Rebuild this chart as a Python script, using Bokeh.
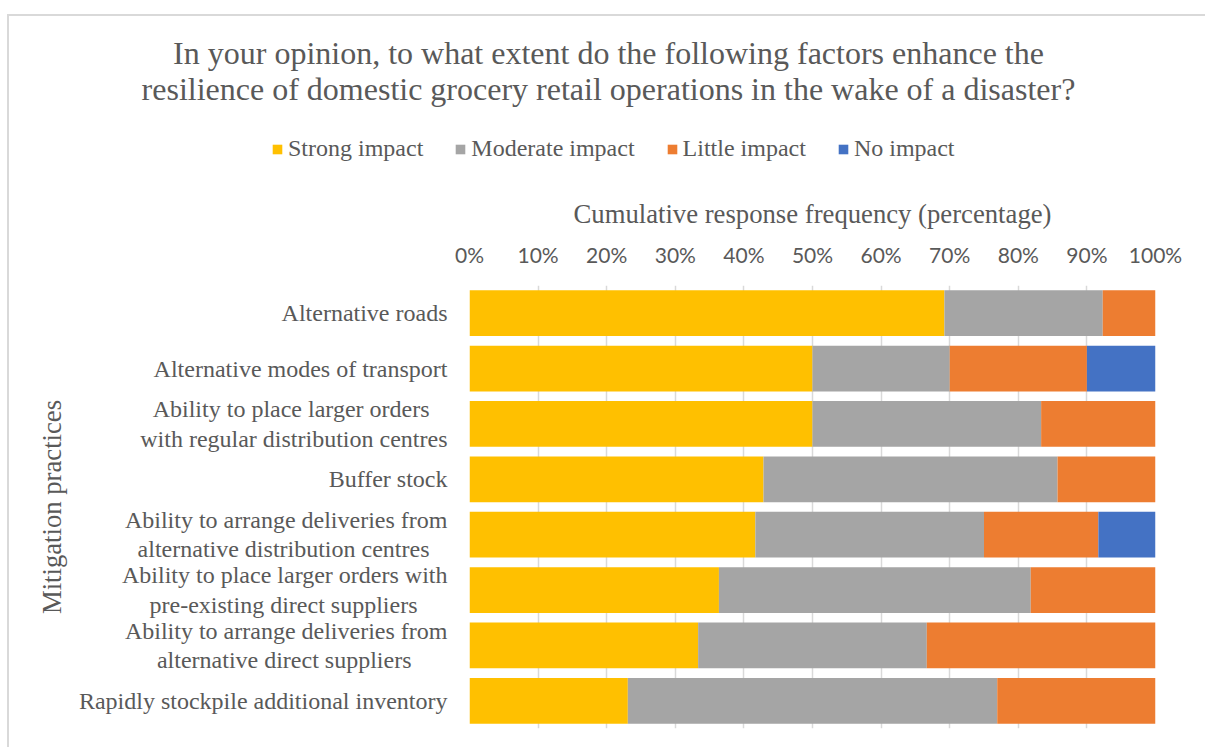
from bokeh.plotting import figure
from bokeh.layouts import column
from bokeh.models import (ColumnDataSource, FactorRange, Range1d, FixedTicker,
                          PrintfTickFormatter, Legend, LegendItem)
from bokeh.core.properties import value
from bokeh.embed import file_html
from bokeh.resources import INLINE

# Survey responses: share of respondents per impact level (percent of each practice)
practices = [
    "Alternative roads",
    "Alternative modes of transport",
    "Ability to place larger orders\nwith regular distribution centres",
    "Buffer stock",
    "Ability to arrange deliveries from\nalternative distribution centres",
    "Ability to place larger orders with\npre-existing direct suppliers",
    "Ability to arrange deliveries from\nalternative direct suppliers",
    "Rapidly stockpile additional inventory",
]
strong_impact = [69.23, 50.0, 50.0, 42.86, 41.67, 36.36, 33.33, 23.08]
moderate_impact = [23.08, 20.0, 33.33, 42.86, 33.33, 45.45, 33.33, 53.85]
little_impact = [7.69, 20.0, 16.67, 14.28, 16.67, 18.19, 33.34, 23.07]
no_impact = [0.0, 10.0, 0.0, 0.0, 8.33, 0.0, 0.0, 0.0]

impact_levels = ["Strong impact", "Moderate impact", "Little impact", "No impact"]
impact_colors = ["#FFC000", "#A5A5A5", "#ED7D31", "#4472C4"]
x_ticks = [0, 10, 20, 30, 40, 50, 60, 70, 80, 90, 100]

title_lines = [
    "In your opinion, to what extent do the following factors enhance the",
    "resilience of domestic grocery retail operations in the wake of a disaster?",
]
x_title = "Cumulative response frequency (percentage)"
y_title = "Mitigation practices"

TEXT = "#595959"
SERIF = "Liberation Serif"
LABEL_PX = 24

# Advance widths (1/1000 em) of the serif face, used to centre the lines
# of the two-line practice labels inside their right-aligned block.
_ADV = dict(zip("abcdefghijklmnopqrstuvwxyz",
                [444, 500, 444, 500, 444, 333, 500, 500, 278, 278, 500, 278, 778,
                 500, 500, 500, 500, 333, 389, 278, 500, 500, 722, 500, 500, 444]))
_ADV.update({" ": 250, "-": 333, "\u00a0": 250, "A": 722, "B": 667, "R": 667})


def line_width(s):
    return sum(_ADV.get(ch, 500) for ch in s) / 1000.0 * LABEL_PX


def centred_block(label):
    lines = label.split("\n")
    if len(lines) == 1:
        return label
    widest = max(line_width(ln) for ln in lines)
    nbsp = line_width("\u00a0")
    out = []
    for ln in lines:
        pad = int(round((widest - line_width(ln)) / 2.0 / nbsp))
        out.append(ln + "\u00a0" * pad)
    return "\n".join(out)


display_names = [centred_block(lab) for lab in practices]

source = ColumnDataSource(dict(
    practice=display_names,
    **{impact_levels[0]: strong_impact,
       impact_levels[1]: moderate_impact,
       impact_levels[2]: little_impact,
       impact_levels[3]: no_impact},
))

W = 1196
HEAD_H = 174
MAIN_H = 731 - HEAD_H

# ---- header: title and legend -------------------------------------------
head = figure(
    width=W, height=HEAD_H,
    x_range=Range1d(0, W), y_range=Range1d(HEAD_H, 0),
    output_backend="svg", toolbar_location=None,
    min_border=0, min_border_left=0, min_border_right=0,
    min_border_top=0, min_border_bottom=0,
)
head.frame_align = False
head.axis.visible = False
head.grid.visible = False
head.outline_line_color = None
head.background_fill_color = "white"
head.border_fill_color = "white"

head.text(
    x=[599, 599], y=[36, 72], text=title_lines,
    text_align="center", text_baseline="middle",
    text_font=value(SERIF), text_font_size="32px", text_color=TEXT,
)

# legend keys: one bar per level, parked below the visible header range
swatches = [
    head.hbar(y=[2 * HEAD_H], left=[0], right=[1], height=1, color=c, line_color=None)
    for c in impact_colors
]
legend = Legend(
    items=[LegendItem(label=name, renderers=[r]) for name, r in zip(impact_levels, swatches)],
    orientation="horizontal",
    location=(262, 28),
    glyph_width=12, glyph_height=12, label_standoff=5, spacing=31,
    padding=0, margin=0, border_line_color=None, background_fill_alpha=0,
    label_text_font=SERIF, label_text_font_size="24px", label_text_color=TEXT,
)
head.add_layout(legend, "center")

# ---- main chart ---------------------------------------------------------
p = figure(
    width=W, height=MAIN_H,
    x_range=Range1d(0, 100),
    y_range=FactorRange(factors=list(reversed(display_names))),
    x_axis_location="above",
    output_backend="svg",
    toolbar_location=None,
    min_border_left=460, min_border_right=50,
    min_border_top=95, min_border_bottom=19,
)
p.frame_align = False
p.outline_line_color = None
p.background_fill_color = "white"
p.border_fill_color = "white"

p.hbar_stack(
    impact_levels, y="practice", height=0.826, color=impact_colors,
    line_color=None, source=source,
)

xa = p.xaxis[0]
xa.ticker = FixedTicker(ticks=x_ticks)
xa.formatter = PrintfTickFormatter(format="%d%%")
xa.axis_line_color = None
xa.major_tick_line_color = None
xa.minor_tick_line_color = None
xa.major_label_text_font = "Lato"
xa.major_label_text_font_size = "21px"
xa.major_label_text_color = TEXT
xa.major_label_standoff = 13
xa.axis_label = x_title
xa.axis_label_text_font = SERIF
xa.axis_label_text_font_size = "26.7px"
xa.axis_label_text_font_style = "normal"
xa.axis_label_text_color = TEXT
xa.axis_label_standoff = 10

ya = p.yaxis[0]
ya.axis_line_color = None
ya.major_tick_line_color = None
ya.minor_tick_line_color = None
ya.major_label_text_font = SERIF
ya.major_label_text_font_size = f"{LABEL_PX}px"
ya.major_label_text_color = TEXT
ya.major_label_text_line_height = 1.13
ya.major_label_standoff = 16
ya.axis_label = y_title
ya.axis_label_text_font = SERIF
ya.axis_label_text_font_size = "26.7px"
ya.axis_label_text_font_style = "normal"
ya.axis_label_text_color = TEXT
ya.axis_label_standoff = 9

p.xgrid.ticker = FixedTicker(ticks=x_ticks)
p.xgrid.grid_line_color = "#D9D9D9"
p.xgrid.grid_line_width = 1.5
p.ygrid.grid_line_color = None

page = column(head, p, spacing=0, styles={
    "margin-left": "7px", "margin-top": "14px",
    "border-left": "2px solid #D9D9D9", "border-top": "2px solid #D9D9D9",
})

open("out.html", "w").write(file_html(page, INLINE))
